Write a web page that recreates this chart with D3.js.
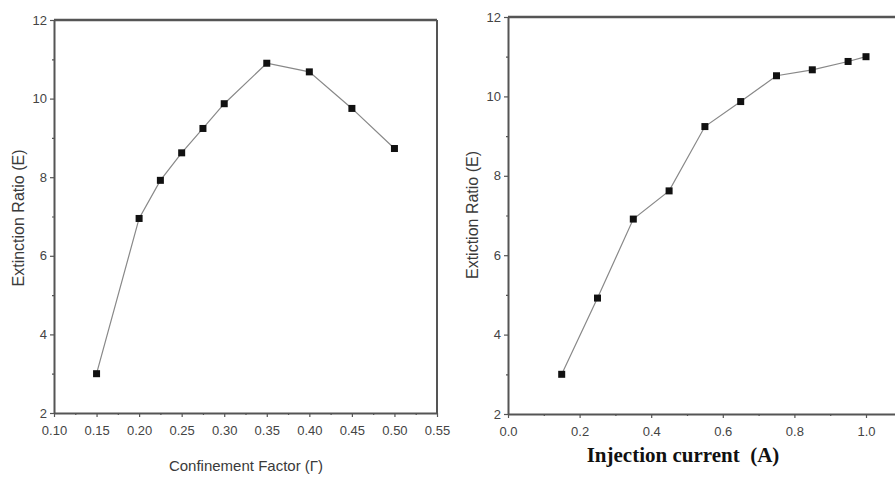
<!DOCTYPE html>
<html>
<head>
<meta charset="utf-8">
<script src="https://cdn.jsdelivr.net/npm/d3@7"></script>
<style>
  html, body { margin: 0; padding: 0; background: #fff; }
  svg { display: block; }
  .tick text { font-family: "Liberation Sans", Arial, sans-serif; font-size: 13px; fill: #444; }
</style>
</head>
<body>
<svg id="chart" width="895" height="479"></svg>
<script>
// Left panel data
const leftX = [0.15, 0.20, 0.225, 0.25, 0.275, 0.30, 0.35, 0.40, 0.45, 0.50];
const leftY = [3.0, 6.95, 7.92, 8.62, 9.24, 9.87, 10.9, 10.68, 9.75, 8.73];
const leftXTicks = [0.10, 0.15, 0.20, 0.25, 0.30, 0.35, 0.40, 0.45, 0.50, 0.55];
const leftXMinor = [0.125, 0.175, 0.225, 0.275, 0.325, 0.375, 0.425, 0.475, 0.525];

// Right panel data
const rightX = [0.15, 0.25, 0.35, 0.45, 0.55, 0.65, 0.75, 0.85, 0.95, 1.0];
const rightY = [3.0, 4.92, 6.91, 7.62, 9.24, 9.87, 10.52, 10.67, 10.88, 11.0];
const rightXTicks = [0.0, 0.2, 0.4, 0.6, 0.8, 1.0];
const rightXMinor = [0.1, 0.3, 0.5, 0.7, 0.9];

const yTicks = [2, 4, 6, 8, 10, 12];
const yMinor = [3, 5, 7, 9, 11];

const svg = d3.select("#chart");
const axisColor = "#555";

function panel(opt) {
  const g = svg.append("g");
  const x = d3.scaleLinear().domain(opt.xDomain).range([opt.left, opt.right]);
  const y = d3.scaleLinear().domain([2, 12]).range([opt.bottom, opt.top]);

  // x axis
  const xa = g.append("g").attr("transform", `translate(0,${opt.bottom})`)
    .call(d3.axisBottom(x).tickValues(opt.xTicks).tickFormat(opt.xFmt).tickSize(4).tickSizeOuter(0).tickPadding(9));
  xa.select(".domain").attr("stroke", axisColor).attr("stroke-width", 2);
  xa.selectAll(".tick line").attr("stroke", axisColor).attr("stroke-width", 1.2);
  g.append("g").attr("transform", `translate(0,${opt.bottom})`)
    .call(d3.axisBottom(x).tickValues(opt.xMinor).tickFormat("").tickSize(2).tickSizeOuter(0))
    .call(s => s.select(".domain").remove())
    .selectAll(".tick line").attr("stroke", axisColor).attr("stroke-width", 1.2);

  // y axis
  const ya = g.append("g").attr("transform", `translate(${opt.left},0)`)
    .call(d3.axisLeft(y).tickValues(yTicks).tickFormat(d3.format("d")).tickSize(4).tickSizeOuter(0).tickPadding(3));
  ya.select(".domain").attr("stroke", axisColor).attr("stroke-width", 2);
  ya.selectAll(".tick line").attr("stroke", axisColor).attr("stroke-width", 1.2);
  g.append("g").attr("transform", `translate(${opt.left},0)`)
    .call(d3.axisLeft(y).tickValues(yMinor).tickFormat("").tickSize(2).tickSizeOuter(0))
    .call(s => s.select(".domain").remove())
    .selectAll(".tick line").attr("stroke", axisColor).attr("stroke-width", 1.2);

  // top border
  g.append("line").attr("x1", opt.left).attr("x2", x(opt.xDomain[1]))
    .attr("y1", opt.top).attr("y2", opt.top)
    .attr("stroke", axisColor).attr("stroke-width", 2.5);
  if (opt.rightBorder) {
    g.append("line").attr("x1", x(opt.xDomain[1])).attr("x2", x(opt.xDomain[1]))
      .attr("y1", opt.top).attr("y2", opt.bottom)
      .attr("stroke", axisColor).attr("stroke-width", 2);
  }

  const pts = opt.xs.map((v, i) => [v, opt.ys[i]]);
  g.append("path").datum(pts)
    .attr("fill", "none").attr("stroke", "#888").attr("stroke-width", 1.2)
    .attr("d", d3.line().x(d => x(d[0])).y(d => y(d[1])));
  g.selectAll("rect.m").data(pts).enter().append("rect")
    .attr("x", d => x(d[0]) - 3.5).attr("y", d => y(d[1]) - 3.5)
    .attr("width", 7).attr("height", 7).attr("fill", "#111");

  // labels
  g.append("text")
    .attr("transform", `translate(${opt.yLabelX},${opt.yLabelY}) rotate(-90)`)
    .attr("text-anchor", "middle")
    .style("font-family", '"Liberation Sans", Arial, sans-serif')
    .style("font-size", "16px").attr("fill", "#3a3a3a")
    .text(opt.yLabel);
  g.append("text")
    .attr("x", opt.xLabelX).attr("y", opt.xLabelY)
    .attr("text-anchor", "middle")
    .attr("xml:space", "preserve").style("white-space", "pre")
    .style("font-family", opt.xLabelFont)
    .style("font-size", opt.xLabelSize).style("font-weight", opt.xLabelWeight)
    .attr("fill", opt.xLabelColor)
    .text(opt.xLabel);
}

panel({
  xDomain: [0.10, 0.55], left: 54, right: 437, top: 20, bottom: 413,
  xTicks: leftXTicks, xMinor: leftXMinor, xFmt: d3.format(".2f"),
  xs: leftX, ys: leftY, rightBorder: true,
  yLabel: "Extinction Ratio (E)", yLabelX: 24, yLabelY: 218,
  xLabel: "Confinement Factor (\u0393)", xLabelX: 246, xLabelY: 471,
  xLabelFont: '"Liberation Sans", Arial, sans-serif', xLabelSize: "15px", xLabelWeight: "normal", xLabelColor: "#3a3a3a"
});

panel({
  xDomain: [0.0, 1.1], left: 508, right: 508 + 1.1 * 358, top: 17, bottom: 414,
  xTicks: rightXTicks, xMinor: rightXMinor, xFmt: d3.format(".1f"),
  xs: rightX, ys: rightY, rightBorder: false,
  yLabel: "Extiction Ratio (E)", yLabelX: 478, yLabelY: 215,
  xLabel: "Injection current  (A)", xLabelX: 683, xLabelY: 462,
  xLabelFont: '"Liberation Serif", "Times New Roman", serif', xLabelSize: "21px", xLabelWeight: "bold", xLabelColor: "#111"
});
</script>
</body>
</html>
